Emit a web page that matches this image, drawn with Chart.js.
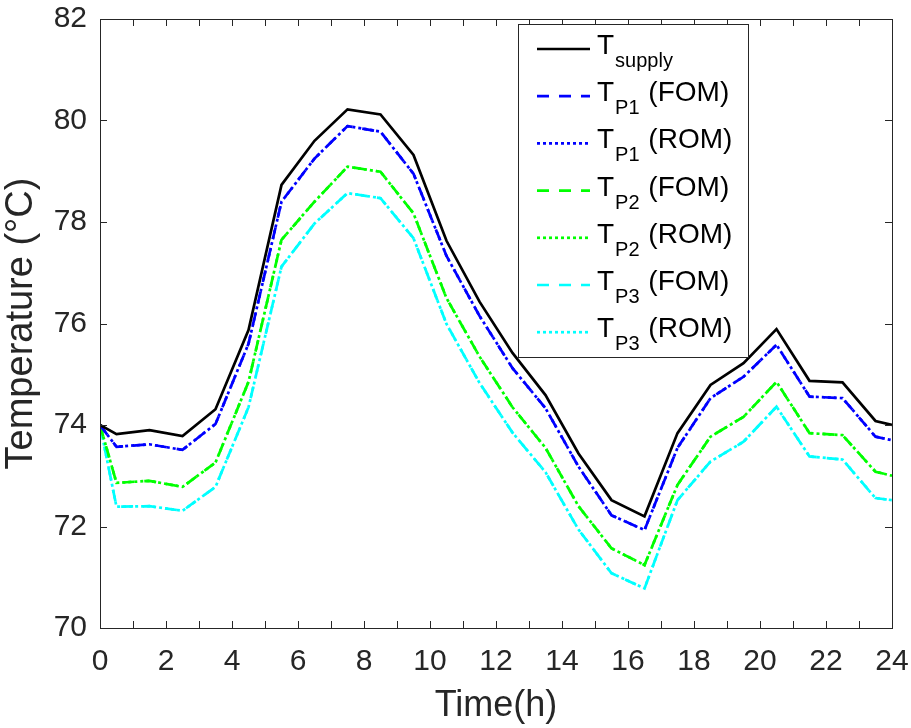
<!DOCTYPE html>
<html>
<head>
<meta charset="utf-8">
<script src="https://cdn.jsdelivr.net/npm/chart.js@4.4.0/dist/chart.umd.min.js"></script>
<style>
  html, body { margin: 0; padding: 0; background: #fff; }
  #wrap { width: 911px; height: 728px; position: relative; }
</style>
</head>
<body>
<div id="wrap"><canvas id="tempChart"></canvas></div>
<script>
// datos
const times = [0, 0.5, 1.5, 2.5, 3.5, 4.5, 5.5, 6.5, 7.5, 8.5, 9.5, 10.5, 11.5, 12.5,
               13.5, 14.5, 15.5, 16.5, 17.5, 18.5, 19.5, 20.5, 21.5, 22.5, 23.5, 24];
const tSupply = [74.0, 73.82, 73.9, 73.78, 74.31, 75.87, 78.73, 79.6, 80.22, 80.12, 79.32, 77.63, 76.43,
                 75.42, 74.59, 73.44, 72.52, 72.2, 73.84, 74.79, 75.22, 75.89, 74.87, 74.84, 74.08, 74.0];
const tP1 = [74.0, 73.57, 73.62, 73.51, 74.02, 75.6, 78.4, 79.25, 79.89, 79.78, 78.95, 77.33, 76.15,
             75.12, 74.33, 73.18, 72.22, 71.93, 73.55, 74.53, 74.95, 75.58, 74.56, 74.53, 73.77, 73.7];
const tP2 = [74.0, 72.86, 72.9, 72.78, 73.26, 74.85, 77.65, 78.4, 79.09, 78.99, 78.17, 76.5, 75.35,
             74.35, 73.55, 72.4, 71.57, 71.24, 72.82, 73.77, 74.16, 74.85, 73.84, 73.8, 73.08, 73.0];
const tP3 = [74.0, 72.39, 72.4, 72.31, 72.78, 74.35, 77.12, 77.97, 78.57, 78.47, 77.68, 75.99, 74.83,
             73.85, 73.07, 71.94, 71.08, 70.78, 72.52, 73.28, 73.67, 74.36, 73.38, 73.32, 72.56, 72.52];

const xTicks = [0, 2, 4, 6, 8, 10, 12, 14, 16, 18, 20, 22, 24];
const yTicks = [70, 72, 74, 76, 78, 80, 82];

const legendSub = ['supply', 'P1', 'P1', 'P2', 'P2', 'P3', 'P3'];
const legendSuffix = ['', '(FOM)', '(ROM)', '(FOM)', '(ROM)', '(FOM)', '(ROM)'];

const FONT = "'Liberation Sans', Arial, Helvetica, sans-serif";
const AXIS = '#262626';
const FOM_DASH = [12, 10];
const ROM_DASH = [3, 3];

function pts(ys) {
    return times.map((t, i) => ({ x: t, y: ys[i] }));
}

function line(label, ys, color, dash) {
    return {
        label: label,
        data: pts(ys),
        borderColor: color,
        borderWidth: 2.7,
        borderDash: dash,
        pointRadius: 0,
        fill: false,
        tension: 0
    };
}

// ejes estilo MATLAB: caja completa y marcas hacia dentro
const boxPlugin = {
    id: 'boxTicks',
    afterDraw(chart) {
        const { ctx, chartArea: a, scales } = chart;
        const len = 7;
        ctx.save();
        ctx.strokeStyle = AXIS;
        ctx.lineWidth = 1;
        ctx.setLineDash([]);
        ctx.beginPath();
        for (let h = 0; h <= 24; h++) {
            const x = Math.round(scales.x.getPixelForValue(h)) + 0.5;
            ctx.moveTo(x, a.bottom); ctx.lineTo(x, a.bottom - len);
            ctx.moveTo(x, a.top); ctx.lineTo(x, a.top + len);
        }
        yTicks.forEach(v => {
            const y = Math.round(scales.y.getPixelForValue(v)) + 0.5;
            ctx.moveTo(a.left, y); ctx.lineTo(a.left + len, y);
            ctx.moveTo(a.right, y); ctx.lineTo(a.right - len, y);
        });
        ctx.stroke();
        ctx.strokeRect(Math.round(a.left) + 0.5, Math.round(a.top) + 0.5,
                       Math.round(a.right - a.left), Math.round(a.bottom - a.top));
        ctx.restore();
    }
};

// leyenda con subindices
const legendPlugin = {
    id: 'subLegend',
    afterDraw(chart) {
        const ctx = chart.ctx;
        const bx = 518, by = 24, bw = 230, bh = 333;
        ctx.save();
        ctx.fillStyle = '#fff';
        ctx.fillRect(bx, by, bw, bh);
        ctx.strokeStyle = AXIS;
        ctx.lineWidth = 1;
        ctx.strokeRect(bx + 0.5, by + 0.5, bw, bh);
        chart.data.datasets.forEach((ds, i) => {
            const y = 49 + i * 47.2;
            ctx.beginPath();
            ctx.setLineDash(ds.borderDash || []);
            ctx.strokeStyle = ds.borderColor;
            ctx.lineWidth = ds.borderWidth;
            ctx.moveTo(537, y);
            ctx.lineTo(590, y);
            ctx.stroke();
            ctx.setLineDash([]);

            ctx.fillStyle = '#000';
            ctx.textBaseline = 'alphabetic';
            ctx.textAlign = 'left';
            let x = 597;
            ctx.font = '28px ' + FONT;
            ctx.fillText('T', x, y + 5);
            x += ctx.measureText('T').width + 1;
            ctx.font = '20px ' + FONT;
            ctx.fillText(legendSub[i], x, y + 18);
            x += ctx.measureText(legendSub[i]).width;
            if (legendSuffix[i]) {
                ctx.font = '28px ' + FONT;
                x += ctx.measureText(' ').width + 1;
                ctx.fillText(legendSuffix[i], x, y + 5);
            }
        });
        ctx.restore();
    }
};

const ctx = document.getElementById('tempChart').getContext('2d');
const tempChart = new Chart(ctx, {
    type: 'line',
    data: {
        datasets: [
            line('T supply', tSupply, '#000000', []),
            line('T P1 (FOM)', tP1, '#0000ff', FOM_DASH),
            line('T P1 (ROM)', tP1, '#0000ff', ROM_DASH),
            line('T P2 (FOM)', tP2, '#00ff00', FOM_DASH),
            line('T P2 (ROM)', tP2, '#00ff00', ROM_DASH),
            line('T P3 (FOM)', tP3, '#00ffff', FOM_DASH),
            line('T P3 (ROM)', tP3, '#00ffff', ROM_DASH)
        ]
    },
    options: {
        responsive: true,
        maintainAspectRatio: false,
        animation: false,
        layout: { padding: { top: 19, right: 19, left: 0, bottom: 0 } },
        plugins: {
            legend: { display: false },
            tooltip: { enabled: false }
        },
        scales: {
            x: {
                type: 'linear',
                min: 0,
                max: 24,
                afterBuildTicks: s => { s.ticks = xTicks.map(v => ({ value: v })); },
                afterFit: s => { s.height = 100; s.paddingLeft = 0; s.paddingRight = 0; },
                grid: { display: false, drawTicks: false },
                border: { display: false },
                ticks: {
                    color: AXIS,
                    padding: 16,
                    maxRotation: 0,
                    autoSkip: false,
                    font: { family: FONT, size: 30 }
                },
                title: {
                    display: true,
                    text: 'Time(h)',
                    color: AXIS,
                    padding: 0,
                    font: { family: FONT, size: 36, lineHeight: 1.2 }
                }
            },
            y: {
                min: 70,
                max: 82,
                afterBuildTicks: s => { s.ticks = yTicks.map(v => ({ value: v })); },
                afterFit: s => { s.width = 100; s.paddingTop = 0; s.paddingBottom = 0; },
                grid: { display: false, drawTicks: false },
                border: { display: false },
                ticks: {
                    color: AXIS,
                    padding: 13,
                    font: { family: FONT, size: 30 }
                },
                title: {
                    display: true,
                    text: 'Temperature (°C)',
                    color: AXIS,
                    padding: 0,
                    font: { family: FONT, size: 38, lineHeight: 1.15 }
                }
            }
        }
    },
    plugins: [boxPlugin, legendPlugin]
});
</script>
</body>
</html>
